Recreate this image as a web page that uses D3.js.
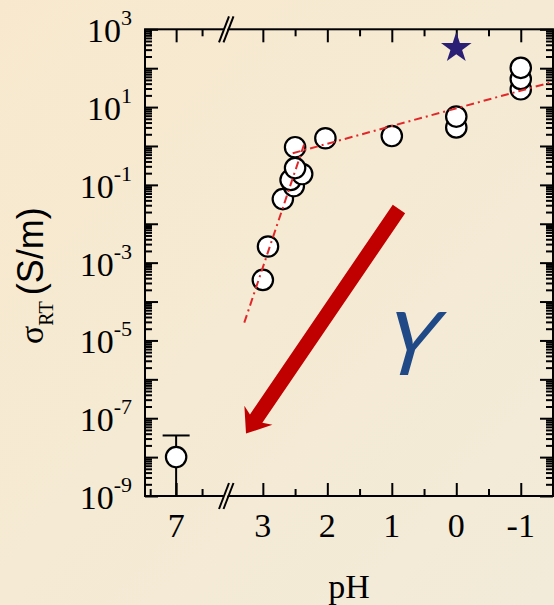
<!DOCTYPE html>
<html>
<head>
<meta charset="utf-8">
<script src="https://cdn.jsdelivr.net/npm/d3@7"></script>
<style>
  body { margin: 0; }
  svg { display: block; }
</style>
</head>
<body>
<script>
// acid-doped samples (right part of the broken axis)
const phAcid = [3.0, 2.92, 2.69, 2.52, 2.57, 2.39, 2.5, 2.5, 2.03, 1.0, 0, 0, -1, -1, -1];
const sigmaAcid = [3.6e-4, 2.6e-3, 0.043, 0.093, 0.134, 0.19, 0.27, 0.93, 1.58, 1.8, 3.0, 5.7, 28.7, 53, 102];

// neutral sample with its error bar
const phNeutral = [7];
const sigmaNeutral = [1e-8];
const errHigh = [3.6e-8];
const errLow = [1e-9];

// star marker
const phStar = [0];
const sigmaStar = [330];

// dash-dot fit lines
const fitSteepPh = [3.288, 2.346];
const fitSteepSigma = [2.86e-5, 1.29];
const fitFlatPh = [2.537, -1.5];
const fitFlatSigma = [0.65, 44.7];

// arrow annotation (start, tip)
const arrowPh = [0.889, 3.261];
const arrowSigma = [0.024, 4.05e-8];

const xMajorLeft = [7];
const xMinorLeft = [7.5, 6.5];
const xMajorRight = [3, 2, 1, 0, -1];
const xMinorRight = [2.5, 1.5, 0.5, -0.5];
const yLabelExp = [3, 1, -1, -3, -5, -7, -9];

const W = 554, H = 605;
const plotL = 145, plotR = 553, plotT = 29.3, plotB = 496;
const breakX = 227;

const svg = d3.select("body").append("svg")
    .attr("width", W)
    .attr("height", H);

const defs = svg.append("defs");
const grad = defs.append("linearGradient")
    .attr("id", "bg")
    .attr("x1", "0").attr("y1", "0")
    .attr("x2", "1").attr("y2", "1");
grad.append("stop").attr("offset", "0").attr("stop-color", "#f8e9ce");
grad.append("stop").attr("offset", "1").attr("stop-color", "#f2ebd9");

svg.append("rect")
    .attr("width", W)
    .attr("height", H)
    .attr("fill", "url(#bg)");

const y = d3.scaleLog().domain([1e-9, 1e3]).range([plotB, plotT]);
const xL = d3.scaleLinear().domain([7.6, 6.0]).range([plotL, 228]);
const xR = d3.scaleLinear().domain([3.556, -1.5]).range([breakX, plotR]);
const x = (ph) => ph > 5 ? xL(ph) : xR(ph);

const serif = "'Liberation Serif', 'Times New Roman', serif";
const sans = "'Liberation Sans', Arial, sans-serif";

// ticks
const yMajor = d3.range(-9, 4).map(e => Math.pow(10, e));
let yMinor = [];
for (let e = -9; e < 3; e++) {
    for (let m = 2; m <= 9; m++) yMinor.push(m * Math.pow(10, e));
}

function addAxis(axis, tx, ty) {
    const g = svg.append("g")
        .attr("transform", `translate(${tx},${ty})`)
        .call(axis);
    g.select(".domain").remove();
    g.selectAll("line").attr("stroke", "#000").attr("stroke-width", 2);
    g.selectAll("text").remove();
    return g;
}

[[xL, xMajorLeft, 13], [xL, xMinorLeft, 7], [xR, xMajorRight, 13], [xR, xMinorRight, 7]]
    .forEach(([sc, vals, len]) => {
        addAxis(d3.axisBottom(sc).tickValues(vals).tickSize(-len).tickSizeOuter(0), 0, plotB);
        addAxis(d3.axisTop(sc).tickValues(vals).tickSize(-len).tickSizeOuter(0), 0, plotT);
    });

[[yMajor, 13], [yMinor, 7]].forEach(([vals, len]) => {
    addAxis(d3.axisLeft(y).tickValues(vals).tickSize(-len).tickSizeOuter(0), plotL, 0);
    addAxis(d3.axisRight(y).tickValues(vals).tickSize(-len).tickSizeOuter(0), plotR, 0);
});

// frame
svg.append("rect")
    .attr("x", plotL).attr("y", plotT)
    .attr("width", plotR - plotL).attr("height", plotB - plotT)
    .attr("fill", "none")
    .attr("stroke", "#000")
    .attr("stroke-width", 2);

// axis break marks
[plotT, plotB].forEach(yy => {
    svg.append("polygon")
        .attr("points", `${breakX - 6},${yy + 6} ${breakX - 1},${yy - 6} ${breakX + 3},${yy - 6} ${breakX - 2},${yy + 6}`)
        .attr("fill", "#f6ebd3");
    [breakX - 3, breakX + 1.5].forEach(bx => {
        svg.append("line")
            .attr("x1", bx - 5).attr("y1", yy + 13)
            .attr("x2", bx + 5).attr("y2", yy - 13)
            .attr("stroke", "#000")
            .attr("stroke-width", 2);
    });
});

// x tick labels
const xLabels = [...xMajorLeft.map(v => [xL(v), v]), ...xMajorRight.map(v => [xR(v), v])];
svg.selectAll(".xlab")
    .data(xLabels)
    .join("text")
    .attr("class", "xlab")
    .attr("x", d => d[0])
    .attr("y", plotB + 41)
    .attr("text-anchor", "middle")
    .style("font-family", serif)
    .style("font-size", "34px")
    .text(d => d[1] < 0 ? "-" + Math.abs(d[1]) : d[1]);

// y tick labels 10^n
const yl = svg.selectAll(".ylab")
    .data(yLabelExp)
    .join("text")
    .attr("class", "ylab")
    .attr("x", 132)
    .attr("y", d => y(Math.pow(10, d)) + 13)
    .attr("text-anchor", "end")
    .style("font-family", serif)
    .style("font-size", "34px");
yl.append("tspan").text("10");
yl.append("tspan")
    .attr("dy", -17)
    .style("font-size", "22px")
    .text(d => d < 0 ? "-" + Math.abs(d) : d);

// axis titles
svg.append("text")
    .attr("x", (plotL + plotR) / 2)
    .attr("y", 598)
    .attr("text-anchor", "middle")
    .style("font-family", serif)
    .style("font-size", "34px")
    .text("pH");

const yt = svg.append("text")
    .attr("transform", "translate(43,344) rotate(-90)")
    .style("font-family", serif)
    .style("font-size", "34px");
yt.append("tspan").text("σ");
yt.append("tspan").attr("dy", 10).style("font-size", "20px").text("RT");
yt.append("tspan").attr("dy", -10).attr("dx", 6)
    .style("font-family", sans).style("font-size", "36px").text("(S/m)");

// error bar for the neutral sample
phNeutral.forEach((ph, i) => {
    svg.append("line")
        .attr("x1", x(ph)).attr("x2", x(ph))
        .attr("y1", y(errLow[i])).attr("y2", y(errHigh[i]))
        .attr("stroke", "#000").attr("stroke-width", 2);
    svg.append("line")
        .attr("x1", x(ph) - 13.5).attr("x2", x(ph) + 13.5)
        .attr("y1", y(errHigh[i])).attr("y2", y(errHigh[i]))
        .attr("stroke", "#000").attr("stroke-width", 2);
});

// arrow
const ax0 = xR(arrowPh[0]), ay0 = y(arrowSigma[0]);
const ax1 = xR(arrowPh[1]), ay1 = y(arrowSigma[1]);
const len = Math.hypot(ax1 - ax0, ay1 - ay0);
const ux = (ax1 - ax0) / len, uy = (ay1 - ay0) / len;
const px = -uy, py = ux;
const sw = 7.5, hw = 17, hl = 22, notch = 4;
const bx = ax1 - ux * hl, by = ay1 - uy * hl;
const nx = bx + ux * notch, ny = by + uy * notch;
const arrowPts = [
    [ax0 + px * sw, ay0 + py * sw],
    [nx + px * sw, ny + py * sw],
    [bx + px * hw, by + py * hw],
    [ax1, ay1],
    [bx - px * hw, by - py * hw],
    [nx - px * sw, ny - py * sw],
    [ax0 - px * sw, ay0 - py * sw]
];
svg.append("polygon")
    .attr("points", arrowPts.map(p => p.join(",")).join(" "))
    .attr("fill", "#c00000");

// Y label
svg.append("text")
    .attr("transform", "translate(407,375) skewX(-9)")
    .attr("text-anchor", "middle")
    .style("font-family", "Lato, 'Liberation Sans', sans-serif")
    .style("font-style", "italic")
    .style("font-size", "88px")
    .attr("fill", "#1f4a87")
    .text("Y");

// circles
const pts = [
    ...phNeutral.map((p, i) => [p, sigmaNeutral[i]]),
    ...phAcid.map((p, i) => [p, sigmaAcid[i]])
];
svg.selectAll(".pt")
    .data(pts)
    .join("circle")
    .attr("class", "pt")
    .attr("cx", d => x(d[0]))
    .attr("cy", d => y(d[1]))
    .attr("r", 10.2)
    .attr("fill", "#fff")
    .attr("stroke", "#000")
    .attr("stroke-width", 2.2);

// fit lines
const line = d3.line().x(d => xR(d[0])).y(d => y(d[1]));
[[fitSteepPh, fitSteepSigma], [fitFlatPh, fitFlatSigma]].forEach(([ph, sg]) => {
    svg.append("path")
        .attr("d", line(ph.map((p, i) => [p, sg[i]])))
        .attr("fill", "none")
        .attr("stroke", "#e0282a")
        .attr("stroke-width", 2)
        .attr("stroke-dasharray", "8,4,2,4");
});

// star
svg.selectAll(".star")
    .data(phStar.map((p, i) => [p, sigmaStar[i]]))
    .join("path")
    .attr("class", "star")
    .attr("transform", d => `translate(${x(d[0])},${y(d[1])})`)
    .attr("d", d3.symbol(d3.symbolStar, 290))
    .attr("fill", "#2b1f75");
</script>
</body>
</html>
